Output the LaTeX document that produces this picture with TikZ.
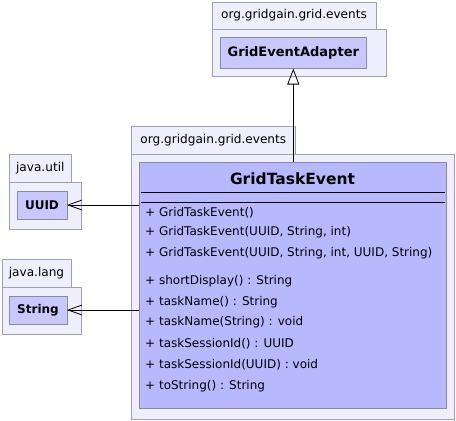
\documentclass[tikz,border=0pt]{standalone}
\usepackage{fontspec}
\setmainfont{DejaVu Sans}
\usepackage{tikz}
\usetikzlibrary{arrows.meta,calc,positioning}
\definecolor{pkgfill}{RGB}{238,238,252}
\definecolor{pkgline}{RGB}{160,160,176}
\definecolor{clsfill}{RGB}{200,200,255}
\definecolor{mainfill}{RGB}{184,184,255}
\definecolor{clsline}{RGB}{136,136,170}

\begin{document}
\begin{tikzpicture}[x=1pt,y=-1pt,
	pkgtab/.style = {draw = pkgline, fill = pkgfill, inner sep = 0pt, font = \fontsize{12.1}{14}\selectfont},
	pkgbody/.style = {draw = pkgline, fill = pkgfill, inner sep = 0pt},
	cls/.style = {draw = clsline, fill = clsfill, inner sep = 0pt, font = \fontsize{12}{14}\selectfont\bfseries},
	member/.style = {anchor = west, inner sep = 0pt, font = \fontsize{12}{14}\selectfont},
	dep/.style = {-{Straight Barb[length=14pt,width=10pt]}, thick},
	inherit/.style = {-{Triangle[open,length=16pt,width=12pt]}, thick}]
\useasboundingbox (0,0) rectangle (456,421);

% top package
\node[pkgtab, minimum width = 164, minimum height = 27] (evtab) at (294, 15.5) {org.gridgain.grid.events};
\node[pkgbody, minimum width = 174, minimum height = 47] (evbody) at (299, 52.5) {};
\node[cls, minimum width = 146, minimum height = 31, font = \fontsize{13}{15}\selectfont\bfseries] (adapter) at (293.3, 52.8) {GridEventAdapter};

% package of the class
\node[pkgtab, minimum width = 164, minimum height = 28] (maintab) at (213.3, 140.2) {org.gridgain.grid.events};
\node[pkgbody, minimum width = 323, minimum height = 265] (mainbody) at (292.8, 286.8) {};
\node[cls, fill = mainfill, minimum width = 307, minimum height = 246] (main) at (292.5, 285.3) {};
\node[inner sep = 0pt, font = \fontsize{15.5}{17}\selectfont\bfseries] (title) at (292.5, 179) {GridTaskEvent};
\draw (141.3, 192.3) -- (445.3, 192.3);
\draw (141.3, 201.7) -- (445.3, 201.7);

% members
\foreach \y/\txt in {212.3/GridTaskEvent(), 232.3/{GridTaskEvent(UUID, String, int)},
	253.3/{GridTaskEvent(UUID, String, int, UUID, String)}, 281/shortDisplay() : String,
	301.7/taskName() : String, 322.3/taskName(String) : void, 344/taskSessionId() : UUID,
	364.3/taskSessionId(UUID) : void, 385.7/toString() : String}
	\node[member] at (145, \y) {+ \txt};

% java.util
\node[pkgtab, minimum width = 62, minimum height = 28] (utiltab) at (40.3, 168.3) {java.util};
\node[pkgbody, minimum width = 72, minimum height = 46.7] (utilbody) at (45.3, 205.7) {};
\node[cls, minimum width = 49.4, minimum height = 27.4] (uuid) at (42, 205) {UUID};

% java.lang
\node[pkgtab, minimum width = 69.6, minimum height = 28] (langtab) at (36.5, 273.3) {java.lang};
\node[pkgbody, minimum width = 79.6, minimum height = 46.7] (langbody) at (41.5, 310.7) {};
\node[cls, minimum width = 57.4, minimum height = 27.4] (string) at (38, 310) {String};

	\draw[dep] (main.west |- uuid.east) -- (uuid.east);
	\draw[dep] (main.west |- string.east) -- (string.east);
	\draw[inherit] (main.north -| adapter.south) -- (adapter.south);
\end{tikzpicture}
\end{document}
